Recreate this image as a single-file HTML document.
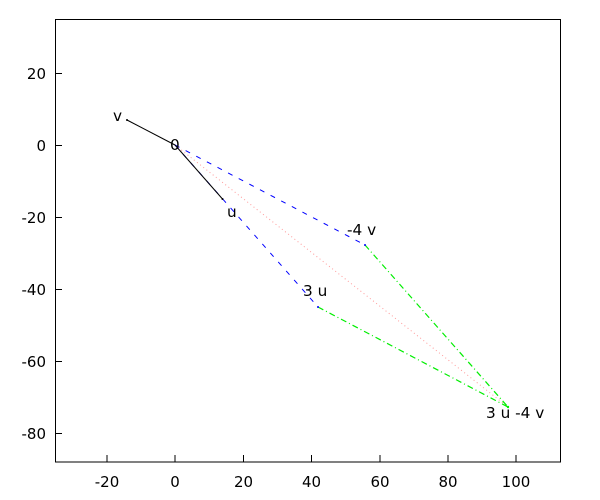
<!DOCTYPE html>
<html>
<head>
<meta charset="utf-8">
<style>
  html, body { margin: 0; padding: 0; background: #ffffff; }
  svg { display: block; }
  text { font-family: "DejaVu Sans", "Liberation Sans", sans-serif; font-size: 15px; fill: #000; }
  .lbl { font-size: 15.3px; }
</style>
</head>
<body>
<svg width="600" height="500" viewBox="0 0 600 500" xmlns="http://www.w3.org/2000/svg">
  <rect x="0" y="0" width="600" height="500" fill="#ffffff"/>

  <!-- frame -->
  <rect x="55.5" y="19.5" width="505" height="442.5" fill="none" stroke="#000" stroke-width="1"/>

  <!-- x ticks -->
  <g stroke="#000" stroke-width="1">
    <line x1="107" y1="462" x2="107" y2="455"/>
    <line x1="175" y1="462" x2="175" y2="455"/>
    <line x1="243.5" y1="462" x2="243.5" y2="455"/>
    <line x1="311.5" y1="462" x2="311.5" y2="455"/>
    <line x1="380" y1="462" x2="380" y2="455"/>
    <line x1="448" y1="462" x2="448" y2="455"/>
    <line x1="516" y1="462" x2="516" y2="455"/>
    <!-- y ticks -->
    <line x1="55" y1="73.5" x2="62" y2="73.5"/>
    <line x1="55" y1="145.5" x2="62" y2="145.5"/>
    <line x1="55" y1="217.5" x2="62" y2="217.5"/>
    <line x1="55" y1="289.5" x2="62" y2="289.5"/>
    <line x1="55" y1="361.5" x2="62" y2="361.5"/>
    <line x1="55" y1="433.5" x2="62" y2="433.5"/>
  </g>

  <!-- x tick labels -->
  <g text-anchor="middle">
    <text x="107" y="487">-20</text>
    <text x="175" y="487">0</text>
    <text x="243.5" y="487">20</text>
    <text x="311.5" y="487">40</text>
    <text x="380" y="487">60</text>
    <text x="448" y="487">80</text>
    <text x="516" y="487">100</text>
  </g>
  <!-- y tick labels -->
  <g text-anchor="end">
    <text x="46" y="79">20</text>
    <text x="46" y="151">0</text>
    <text x="46" y="223">-20</text>
    <text x="46" y="295">-40</text>
    <text x="46" y="367">-60</text>
    <text x="46" y="439">-80</text>
  </g>

  <!-- pink dotted diagonal 0 -> 3u-4v -->
  <line x1="175" y1="145" x2="508" y2="407" stroke="#ff9a9a" stroke-width="1" stroke-dasharray="1 3"/>

  <!-- green dash-dot -->
  <g stroke="#00ee00" stroke-width="1.2" fill="none" stroke-dasharray="6 3 1 3">
    <line x1="318" y1="307" x2="508" y2="407"/>
    <line x1="365" y1="245" x2="508" y2="407"/>
  </g>

  <!-- blue dashed -->
  <g stroke="#0000ff" stroke-width="1" fill="none" stroke-dasharray="5 7">
    <line x1="175" y1="145" x2="318" y2="307"/>
    <line x1="175" y1="145" x2="365" y2="245"/>
  </g>

  <!-- black solid vectors (on top) -->
  <g stroke="#000" stroke-width="1">
    <line x1="175" y1="145" x2="127" y2="120"/>
    <line x1="175" y1="145" x2="222.5" y2="199"/>
  </g>

  <!-- endpoint dots -->
  <g fill="#000">
    <circle cx="127" cy="120" r="1"/>
    <circle cx="222.5" cy="199" r="1"/>
  </g>
  <g fill="#0000ff">
    <circle cx="318" cy="307" r="1"/>
    <circle cx="365" cy="245" r="1"/>
  </g>
  <circle cx="508" cy="407" r="1.2" fill="#00ee00"/>

  <!-- labels -->
  <text class="lbl" x="113" y="121">v</text>
  <text class="lbl" x="170" y="150">0</text>
  <text class="lbl" x="227" y="217">u</text>
  <text class="lbl" x="347" y="235">-4 v</text>
  <text class="lbl" x="303" y="296">3 u</text>
  <text class="lbl" x="486" y="418">3 u -4 v</text>
</svg>
</body>
</html>
